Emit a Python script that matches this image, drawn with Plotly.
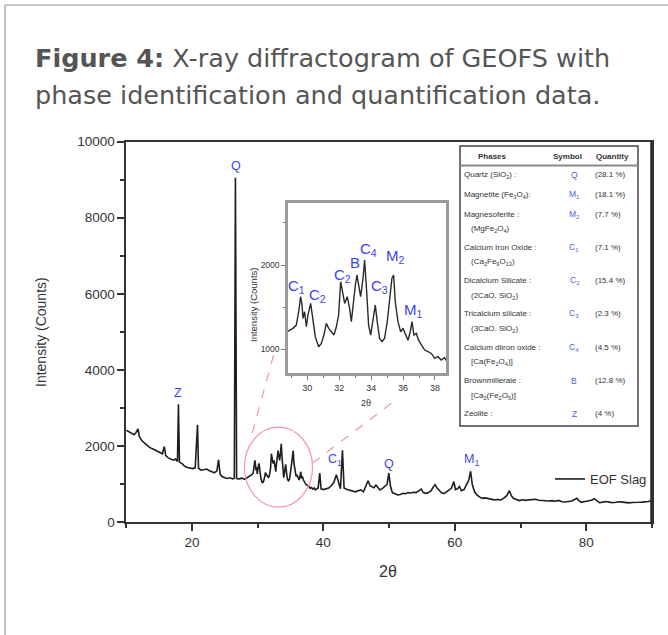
import plotly.graph_objects as go

W, H = 668, 635


def px(x):
    return x / W


def py(y):
    return 1 - y / H


# ---------------- data ----------------
two_theta = [
    10.0, 10.4, 10.8, 11.2, 11.5, 11.8, 12.0, 12.4, 12.8, 13.2, 13.6, 14.0, 14.4, 14.8,
    15.2, 15.5, 15.8, 16.0, 16.4, 16.8, 17.2, 17.5, 17.8, 17.95, 18.1, 18.5, 18.9, 19.3,
    19.7, 20.1, 20.5, 20.85, 21.0, 21.4, 21.8, 22.2, 22.6, 23.0, 23.4, 23.8, 24.05, 24.3,
    24.6, 25.0, 25.4, 25.8, 26.2, 26.45, 26.62, 26.8, 27.2, 27.6, 28.0, 28.4,
    28.79, 29.1, 29.31, 29.46, 29.58, 29.67, 29.73, 29.83, 29.94, 30.04, 30.21, 30.36,
    30.5, 30.71, 30.88, 31.04, 31.19, 31.34, 31.5, 31.67, 31.82, 31.96, 32.09, 32.23,
    32.34, 32.5, 32.65, 32.76, 32.86, 33.01, 33.11, 33.22, 33.34, 33.49, 33.59, 33.72,
    33.84, 33.97, 34.11, 34.26, 34.38, 34.53, 34.68, 34.84, 35.01, 35.16, 35.3, 35.41,
    35.51, 35.68, 35.85, 35.99, 36.14, 36.31, 36.45, 36.56, 36.68, 36.83, 36.97, 37.14,
    37.35, 37.56, 37.77, 37.98, 38.18, 38.39, 38.6, 38.77,
    39.0, 39.2, 39.45, 39.65, 40.0, 40.4, 40.8, 41.2, 41.6, 41.98, 42.3, 42.6, 42.9,
    43.15, 43.6, 44.0, 44.4, 44.9, 45.3, 45.7, 46.1, 46.5, 46.8, 47.1, 47.4, 47.7, 48.0,
    48.3, 48.6, 49.0, 49.4, 49.7, 49.95, 50.2, 50.5, 50.9, 51.3, 51.7, 52.1, 52.5, 52.9,
    53.3, 53.7, 54.1, 54.5, 54.9, 55.2, 55.6, 56.0, 56.4, 56.7, 57.0, 57.3, 57.6, 58.0,
    58.4, 58.8, 59.2, 59.5, 59.85, 60.1, 60.4, 60.7, 61.0, 61.4, 61.8, 62.1, 62.4, 62.65,
    63.0, 63.4, 63.8, 64.2, 64.6, 65.0, 65.5, 66.0, 66.5, 67.0, 67.5, 67.9, 68.3, 68.6,
    68.9, 69.3, 69.8, 70.3, 70.8, 71.3, 71.8, 72.3, 72.8, 73.3, 73.8, 74.3, 74.8, 75.3,
    75.8, 76.3, 76.8, 77.3, 77.8, 78.2, 78.6, 78.9, 79.3, 79.8, 80.3, 80.8, 81.2, 81.6,
    82.0, 82.5, 83.0, 83.5, 84.0, 84.5, 85.0, 85.5, 86.0, 86.5, 87.0, 87.5, 88.0, 88.5,
    89.0, 89.5, 90.0,
]
intensity = [
    2420, 2380, 2330, 2300, 2360, 2450, 2250, 2140, 2080, 2010, 1960, 1930, 1900, 1850,
    1820, 1800, 1990, 1760, 1690, 1650, 1630, 1660, 1600, 3100, 1580, 1540, 1470, 1440,
    1420, 1410, 1430, 2560, 1420, 1370, 1380, 1400, 1360, 1330, 1300, 1350, 1640, 1260,
    1200, 1170, 1150, 1170, 1140, 1160, 9050, 1150, 1140, 1160, 1130, 1170,
    1209, 1249, 1288, 1446, 1624, 1525, 1367, 1446, 1268, 1407, 1545, 1328,
    1150, 1031, 1071, 1170, 1308, 1249, 1209, 1170, 1268, 1407, 1802, 1664,
    1545, 1624, 1486, 1328, 1525, 1763, 1881, 1743, 1624, 1842, 2059, 1683,
    1288, 1170, 1328, 1525, 1328, 1130, 1091, 1130, 1328, 1604, 1842, 1881,
    1565, 1328, 1209, 1249, 1189, 1110, 1209, 1328, 1170, 1189, 1110, 1051,
    992, 972, 952, 893, 913, 873, 901, 853,
    870, 900, 1290, 880, 860, 880, 900, 960, 1050, 1250, 1030, 880, 1890,
    900, 860, 840, 840, 800, 830, 850, 800, 950, 1090, 960, 930, 910, 980,
    900, 850, 890, 970, 1000, 1290, 960, 780, 740, 720, 730, 760, 750, 780,
    770, 790, 780, 820, 870, 780, 760, 780, 830, 920, 990, 900, 840, 770,
    760, 800, 860, 900, 1070, 860, 880, 940, 830, 860, 980, 1100, 1340, 1000,
    800, 710, 660, 630, 640, 620, 600, 590, 600, 590, 640, 700, 830, 700,
    630, 600, 570, 590, 575, 590, 600, 605, 580, 570, 565, 560, 570, 555,
    575, 540, 535, 545, 560, 600, 630, 560, 525, 545, 565, 580, 620, 560,
    515, 530, 545, 530, 515, 525, 540, 530, 520, 510, 520, 515, 525, 530,
    540, 545, 580,
]
series_name = "EOF Slag"

# peak labels on the main pattern
main_labels = ["Q", "Z", "C<sub>1</sub>", "Q", "M<sub>1</sub>"]
main_label_x = [26.74, 17.9, 41.7, 50.06, 62.55]
main_label_y = [9365, 3390, 1640, 1527, 1640]

# peak labels on the zoomed inset
inset_labels = ["C<sub>1</sub>", "C<sub>2</sub>", "C<sub>2</sub>", "B", "C<sub>4</sub>",
                "C<sub>3</sub>", "M<sub>2</sub>", "M<sub>1</sub>"]
inset_label_x = [29.35, 30.62, 32.18, 32.97, 33.86, 34.53, 35.5, 36.68]
inset_label_y = [1742, 1644, 1881, 2032, 2178, 1742, 2098, 1466]

# phase table
table_header = ["Phases", "Symbol", "Quantity"]
phases = ["Quartz (SiO<sub>2</sub>) :", "Magnetite (Fe<sub>3</sub>O<sub>4</sub>):",
          "Magnesoferite :", "Calcium Iron Oxide :", "Dicalcium Silicate :",
          "Tricalcium silicate :", "Calcium diiron oxide :", "Brownmilleraie :",
          "Zeolite :"]
formulas = ["", "", "(MgFe<sub>2</sub>O<sub>4</sub>)",
            "(Ca<sub>2</sub>Fe<sub>9</sub>O<sub>13</sub>)",
            "(2CaO. SiO<sub>2</sub>)", "(3CaO. SiO<sub>2</sub>)",
            "[Ca(Fe<sub>2</sub>O<sub>4</sub>)]",
            "[Ca<sub>2</sub>(Fe<sub>2</sub>O<sub>5</sub>)]", ""]
symbols = ["Q", "M<sub>1</sub>", "M<sub>2</sub>", "C<sub>1</sub>", "C<sub>2</sub>",
           "C<sub>3</sub>", "C<sub>4</sub>", "B", "Z"]
quantities = ["(28.1 %)", "(18.1 %)", "(7.7 %)", "(7.1 %)", "(15.4 %)", "(2.3 %)",
              "(4.5 %)", "(12.8 %)", "(4 %)"]

title_line1 = "<b>Figure 4:</b> X-ray diffractogram of GEOFS with"
title_line2 = "phase identification and quantification data."

# ---------------- styles ----------------
LABEL_BLUE = "#4242f5"
TABLE_BLUE = "#4466dd"
PINK = "#f48fb8"
AX = "#333333"
SANS = "Liberation Sans, Arial, sans-serif"
TITLE_FONT = "DejaVu Sans, sans-serif"

fig = go.Figure()

fig.add_trace(go.Scatter(
    x=two_theta, y=intensity, mode="lines", name=series_name,
    line=dict(color="#1e1e1e", width=1.6), xaxis="x", yaxis="y", showlegend=True,
))
fig.add_trace(go.Scatter(
    x=two_theta, y=intensity, mode="lines", name=series_name,
    line=dict(color="#2a2a2a", width=1.4), xaxis="x2", yaxis="y2", showlegend=False,
))

tickfont_main = dict(family=SANS, size=13.5, color=AX)
common = dict(automargin=False, showgrid=False, zeroline=False, tickformat="d")
fig.update_layout(
    width=W, height=H, autosize=False,
    margin=dict(l=0, r=0, t=0, b=0, pad=0, autoexpand=False),
    paper_bgcolor="white", plot_bgcolor="white",
    showlegend=True,
    legend=dict(x=px(550), y=py(479), xanchor="left", yanchor="middle",
                bgcolor="rgba(0,0,0,0)", borderwidth=0,
                font=dict(family="Liberation Sans Narrow, Liberation Sans, sans-serif",
                          size=13, color="#333")),
    xaxis=dict(domain=[px(126.2), px(652)], range=[10, 90], anchor="y",
               showline=True, linecolor=AX, linewidth=1.5, mirror=True,
               ticks="outside", ticklen=7, tickwidth=1.5, tickcolor=AX,
               tick0=0, dtick=20,
               minor=dict(dtick=10, ticks="outside", ticklen=4, tickwidth=1.5, tickcolor=AX),
               tickfont=tickfont_main, **common),
    yaxis=dict(domain=[py(522.3), py(141.5)], range=[0, 10000], anchor="x",
               showline=True, linecolor=AX, linewidth=1.5, mirror=True,
               ticks="outside", ticklen=7, tickwidth=1.5, tickcolor=AX,
               tick0=0, dtick=2000,
               minor=dict(dtick=1000, ticks="outside", ticklen=4, tickwidth=1.5, tickcolor=AX),
               tickfont=tickfont_main, **common),
    xaxis2=dict(domain=[px(288), px(446)], range=[28.79, 38.69], anchor="y2",
                showline=True, linecolor="#9a9a9a", linewidth=2.5, mirror=True,
                ticks="outside", ticklen=4, tickwidth=1, tickcolor="#777",
                tick0=0, dtick=2,
                minor=dict(dtick=1, ticks="outside", ticklen=2.5, tickwidth=1, tickcolor="#777"),
                tickfont=dict(family=SANS, size=9, color=AX), **common),
    yaxis2=dict(domain=[py(373), py(203)], range=[720, 2735], anchor="x2",
                showline=True, linecolor="#9a9a9a", linewidth=2.5, mirror=True,
                ticks="outside", ticklen=4, tickwidth=1, tickcolor="#777",
                tick0=0, dtick=1000,
                minor=dict(dtick=500, ticks="outside", ticklen=2.5, tickwidth=1, tickcolor="#777"),
                tickfont=dict(family=SANS, size=8.5, color=AX), **common),
)

shapes = []
# card border
shapes.append(dict(type="line", xref="paper", yref="paper", x0=px(5), x1=px(5),
                   y0=py(5), y1=py(635), line=dict(color="#9a9a9a", width=1.2)))
shapes.append(dict(type="line", xref="paper", yref="paper", x0=px(5), x1=px(668),
                   y0=py(5), y1=py(5), line=dict(color="#9a9a9a", width=1.2)))
# thick right frame of the main plot
shapes.append(dict(type="line", xref="x", yref="y", x0=90, x1=90, y0=0, y1=10000,
                   line=dict(color="#2a2a2a", width=3.5)))
# zoom circle and connectors
shapes.append(dict(type="circle", xref="x", yref="y", x0=27.98, x1=38.35, y0=401, y1=2498,
                   line=dict(color=PINK, width=1.2)))
shapes.append(dict(type="line", xref="x", yref="y", x0=29.18, y0=2340, x1=32.53, y1=4464,
                   line=dict(color=PINK, width=1.2, dash="dash")))
shapes.append(dict(type="line", xref="x", yref="y", x0=38.33, y0=1554, x1=50.57, y1=3153,
                   line=dict(color=PINK, width=1.2, dash="dash")))
# phase table frame
shapes.append(dict(type="rect", xref="paper", yref="paper", x0=px(460), x1=px(638),
                   y0=py(426), y1=py(146), line=dict(color="#444", width=1.5),
                   fillcolor="white"))
shapes.append(dict(type="line", xref="paper", yref="paper", x0=px(460), x1=px(638),
                   y0=py(165.5), y1=py(165.5), line=dict(color="#888", width=2)))
fig.update_layout(shapes=shapes)


def note(x, y, text, font, xanchor="center", yanchor="middle", angle=0):
    return dict(xref="paper", yref="paper", x=px(x), y=py(y), xanchor=xanchor,
                yanchor=yanchor, showarrow=False, text=text, font=font, textangle=angle)


ann = []
# title
tfont = dict(family=TITLE_FONT, size=25.5, color="#555")
ann.append(note(33, 58, title_line1, tfont, xanchor="left"))
ann.append(note(33, 95, title_line2, tfont, xanchor="left"))
# axis titles
ann.append(note(41, 332, "Intensity (Counts)", dict(family=SANS, size=14, color=AX), angle=-90))
ann.append(note(388, 571, "2θ", dict(family=SANS, size=16, color=AX)))
ann.append(note(253, 305, "Intensity (Counts)", dict(family=SANS, size=9.5, color=AX), angle=-90))
ann.append(note(366, 403, "2θ", dict(family=SANS, size=9, color=AX)))
# peak labels
for t, x, y in zip(main_labels, main_label_x, main_label_y):
    ann.append(dict(xref="x", yref="y", x=x, y=y, text=t, showarrow=False,
                    xanchor="center", yanchor="middle",
                    font=dict(family=SANS, size=12.5, color=LABEL_BLUE)))
for t, x, y in zip(inset_labels, inset_label_x, inset_label_y):
    ann.append(dict(xref="x2", yref="y2", x=x, y=y, text=t, showarrow=False,
                    xanchor="center", yanchor="middle",
                    font=dict(family=SANS, size=15, color=LABEL_BLUE)))
# table header
tf = dict(family=SANS, size=8, color="#333")
for t, x in zip(table_header, [492, 567, 612]):
    ann.append(note(x, 156, "<b>" + t + "</b>", tf))
# table rows
yrow = 175.0
for ph, fo, sy, qu in zip(phases, formulas, symbols, quantities):
    ann.append(note(462, yrow, ph, tf, xanchor="left"))
    if fo:
        ann.append(note(469, yrow + 15, fo, tf, xanchor="left"))
    ann.append(note(574, yrow, sy, dict(family=SANS, size=8.5, color=TABLE_BLUE)))
    ann.append(note(593, yrow, qu, tf, xanchor="left"))
    yrow += 33.3 if fo else 19.5
fig.update_layout(annotations=ann)

fig.write_html("out.html")
